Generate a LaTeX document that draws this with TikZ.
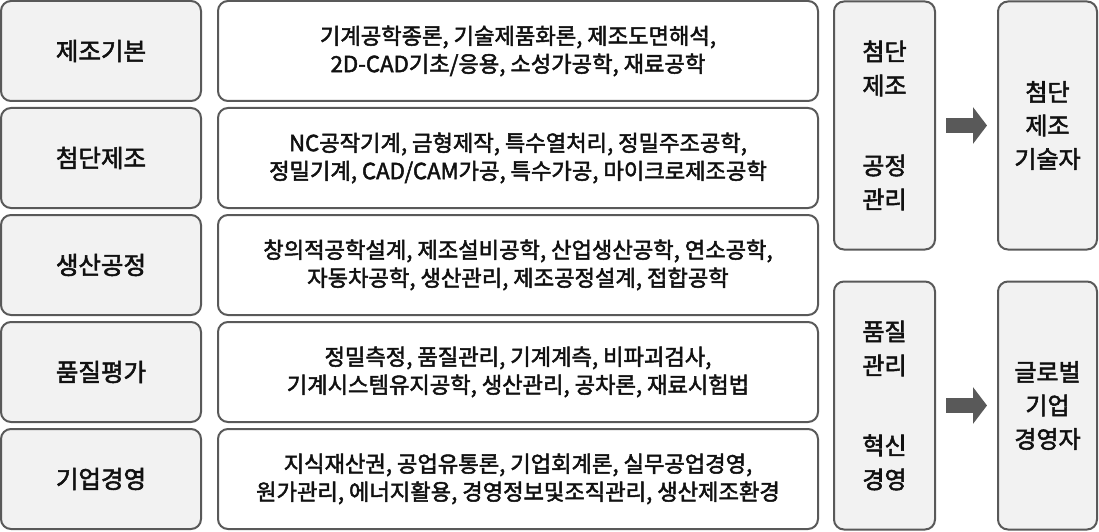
\documentclass[tikz,border=0pt]{standalone}
\usepackage{fontspec}
\setmainfont{Noto Sans CJK KR}
\newfontfamily\krmid{Noto Sans CJK KR}[FakeBold=2.2]
\usetikzlibrary{arrows.meta}
\definecolor{boxedge}{HTML}{595959}
\definecolor{boxgray}{HTML}{F2F2F2}
\definecolor{arrowgray}{HTML}{595959}
\definecolor{txt}{HTML}{111111}
\tikzset{
  basebox/.style={draw=boxedge, line width=2pt, rounded corners=10pt, text=txt, align=center, inner sep=0pt},
  catbox/.style={basebox, fill=boxgray, minimum width=200pt, minimum height=100pt, font=\krmid\fontsize{24.5}{30}\selectfont},
  subjbox/.style={basebox, fill=white, minimum width=600pt, minimum height=100pt, font=\krmid\fontsize{22.2}{28}\selectfont},
  areabox/.style={basebox, fill=boxgray, minimum width=101pt, minimum height=248pt, font=\krmid\fontsize{24}{34}\selectfont},
  goalbox/.style={basebox, fill=boxgray, minimum width=99pt, minimum height=248pt, font=\krmid\fontsize{24}{33.5}\selectfont},
  flowarrow/.style={arrowgray, line width=15pt, -{Triangle[length=14pt, width=36pt]}, shorten <=10pt, shorten >=10pt}
}
\begin{document}
\begin{tikzpicture}[x=1pt, y=-1pt]
\useasboundingbox (0,0) rectangle (1099,532);
% left categories
\node[catbox] (k1) at (101,51) {제조기본};
\node[catbox] (k2) at (101,158) {첨단제조};
\node[catbox] (k3) at (101,265) {생산공정};
\node[catbox] (k4) at (101,372) {품질평가};
\node[catbox] (k5) at (101,479) {기업경영};
% subjects
\node[subjbox] (s1) at (518,51) {기계공학종론, 기술제품화론, 제조도면해석,\\2D-CAD기초/응용, 소성가공학, 재료공학};
\node[subjbox] (s2) at (518,158) {NC공작기계, 금형제작, 특수열처리, 정밀주조공학,\\정밀기계, CAD/CAM가공, 특수가공, 마이크로제조공학};
\node[subjbox] (s3) at (518,265) {창의적공학설계, 제조설비공학, 산업생산공학, 연소공학,\\자동차공학, 생산관리, 제조공정설계, 접합공학};
\node[subjbox] (s4) at (518,372) {정밀측정, 품질관리, 기계계측, 비파괴검사,\\기계시스템유지공학, 생산관리, 공차론, 재료시험법};
\node[subjbox] (s5) at (518,479) {지식재산권, 공업유통론, 기업회계론, 실무공업경영,\\원가관리, 에너지활용, 경영정보및조직관리, 생산제조환경};
% areas
\node[areabox] (a1) at (884.5,125.5) {첨단\\제조\\[46pt]공정\\관리};
\node[areabox] (a2) at (884.5,405.5) {품질\\관리\\[46pt]혁신\\경영};
% goals
\node[goalbox] (g1) at (1047.5,125.5) {첨단\\제조\\기술자};
\node[goalbox] (g2) at (1047.5,405.5) {글로벌\\기업\\경영자};
% arrows
\draw[flowarrow] (a1.east) -- (g1.west);
\draw[flowarrow] (a2.east) -- (g2.west);
\end{tikzpicture}
\end{document}
